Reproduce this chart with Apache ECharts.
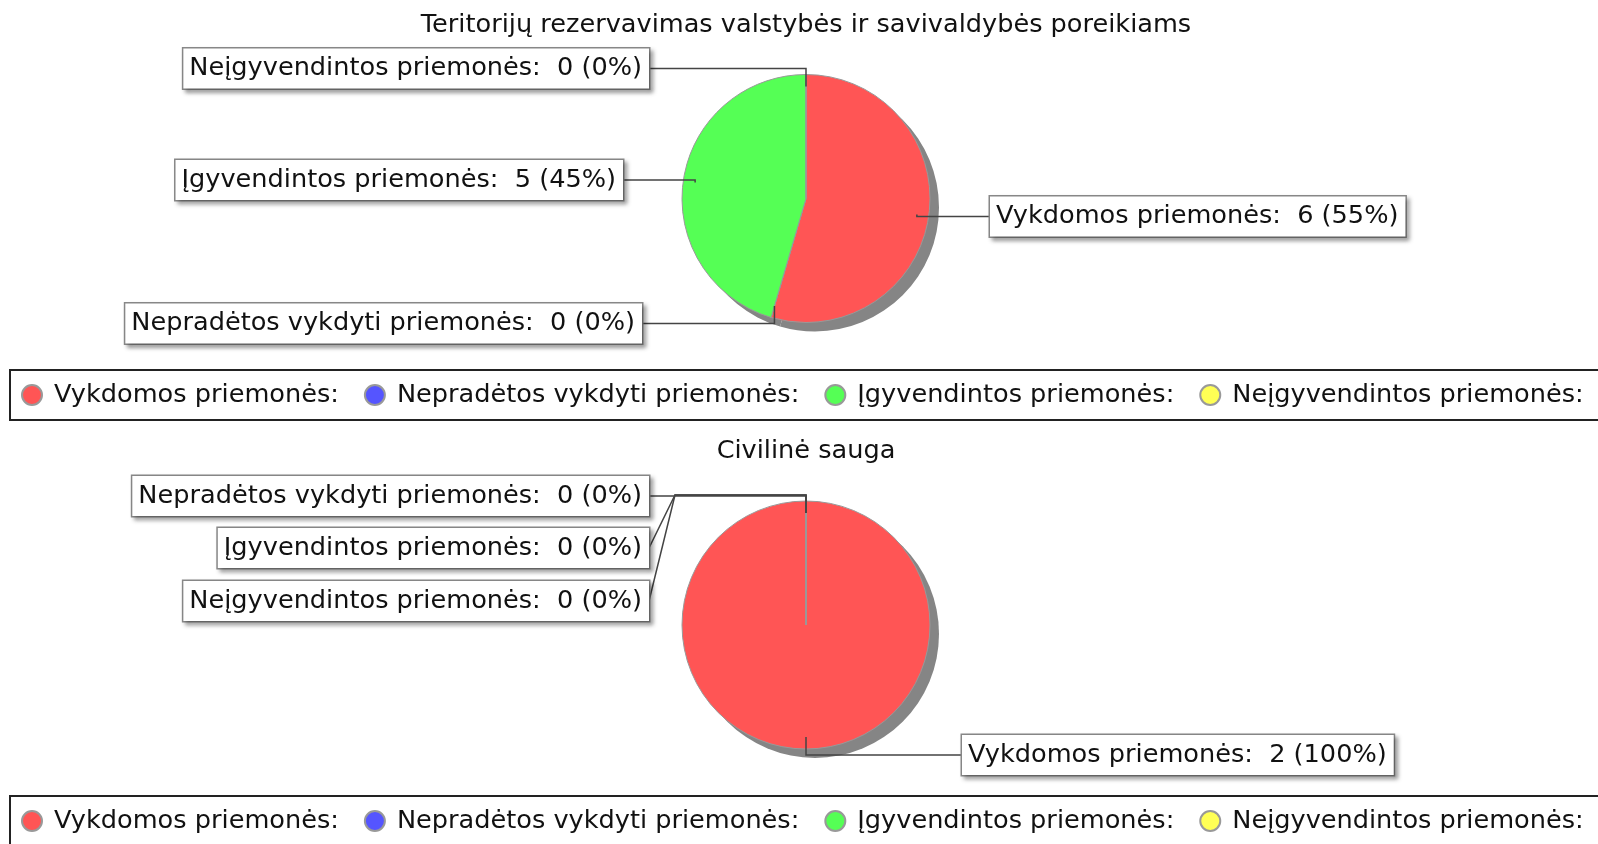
<!DOCTYPE html>
<html>
<head>
<meta charset="utf-8">
<script src="https://cdn.jsdelivr.net/npm/echarts@6/dist/echarts.min.js"></script>
<style>
  html, body { margin: 0; padding: 0; background: #fff; }
  #chart { width: 1598px; height: 844px; }
</style>
</head>
<body>
<div id="chart"></div>
<script>
const categories = ['Vykdomos priemonės:', 'Nepradėtos vykdyti priemonės:', 'Įgyvendintos priemonės:', 'Neįgyvendintos priemonės:'];
const colors = ['#ff5555', '#5555ff', '#55ff55', '#ffff55'];
const titles = ['Teritorijų rezervavimas valstybės ir savivaldybės poreikiams', 'Civilinė sauga'];
const teritorijuValues = [6, 0, 5, 0];
const civilineValues = [2, 0, 0, 0];

const FONT = 'DejaVu Sans';
const FS = 25.6;
const R = 124;

// panel layout: pie centre, title / legend rows, label box anchors
const panels = [
  { values: teritorijuValues, cx: 806, cy: 198.5, titleY: 25, legendY: 370,
    labels: [[990, 216.5], [642, 323.5], [623, 180], [649, 68.5]] },
  { values: civilineValues, cx: 806, cy: 625, titleY: 451, legendY: 796,
    labels: [[962, 755], [649, 496], [649, 548], [649, 601]] }
];

// mid angle of each slice (clockwise from 12 o'clock)
function midAngles(values) {
  const total = values.reduce((a, b) => a + b, 0);
  let acc = 0;
  return values.map(v => {
    const a = (acc + v / 2) / total * Math.PI * 2;
    acc += v;
    return a;
  });
}

function makeLabelLayout(p) {
  const mids = midAngles(p.values);
  return function (params) {
    const i = params.dataIndex;
    const pos = p.labels[i];
    const right = pos[0] > p.cx;
    const sx = Math.sin(mids[i]), sy = -Math.cos(mids[i]);
    const inner = [p.cx + sx * (R - 12), p.cy + sy * (R - 12)];
    let elbowY = p.cy + sy * (R + 6);
    if (Math.abs(elbowY - pos[1]) < 10) elbowY = pos[1];
    const dir = right ? -1 : 1;
    return {
      x: pos[0],
      y: pos[1],
      align: right ? 'left' : 'right',
      verticalAlign: 'middle',
      labelLinePoints: [
        [pos[0], pos[1]],
        [pos[0] + dir * 26, elbowY],
        [inner[0], elbowY],
        inner
      ]
    };
  };
}

const series = [];
panels.forEach((p, k) => {
  // drop shadow behind the pie
  series.push({
    type: 'pie',
    z: 1,
    center: [p.cx + 9, p.cy + 9],
    radius: R,
    silent: true,
    label: { show: false },
    labelLine: { show: false },
    itemStyle: { color: '#858585', borderWidth: 0 },
    emphasis: { disabled: true },
    data: p.values.map((v, i) => ({ name: 'shadow-' + k + '-' + i, value: v }))
  });
  // the pie itself
  series.push({
    type: 'pie',
    z: 2,
    center: [p.cx, p.cy],
    radius: R,
    emphasis: { disabled: true },
    itemStyle: { borderColor: '#999', borderWidth: 1 },
    label: { show: false },
    labelLine: { show: false },
    data: categories.map((c, i) => ({ name: c, value: p.values[i], itemStyle: { color: colors[i] } }))
  });
  // transparent copy on top carrying the labels and link lines
  series.push({
    type: 'pie',
    z: 3,
    center: [p.cx, p.cy],
    radius: R,
    silent: true,
    percentPrecision: 0,
    avoidLabelOverlap: false,
    emphasis: { disabled: true },
    itemStyle: { color: 'rgba(0,0,0,0)', borderWidth: 0 },
    label: {
      show: true,
      formatter: '{b}  {c} ({d}%)',
      fontFamily: FONT,
      fontSize: FS,
      color: '#111',
      lineHeight: 28,
      backgroundColor: '#fff',
      borderColor: '#888',
      borderWidth: 1.5,
      padding: [6, 7, 6, 6],
      shadowColor: 'rgba(0,0,0,0.3)',
      shadowBlur: 4,
      shadowOffsetX: 3,
      shadowOffsetY: 3
    },
    labelLine: { show: true, lineStyle: { color: '#444', width: 1.5 } },
    labelLayout: makeLabelLayout(p),
    data: categories.map((c, i) => ({ name: c, value: p.values[i] }))
  });
});

const chart = echarts.init(document.getElementById('chart'));
chart.setOption({
  animation: false,
  color: colors,
  title: panels.map((p, k) => ({
    text: titles[k],
    left: 806,
    top: p.titleY,
    textAlign: 'center',
    textVerticalAlign: 'middle',
    padding: 0,
    textStyle: { fontFamily: FONT, fontSize: FS, fontWeight: 'normal', color: '#111' }
  })),
  legend: panels.map(p => ({
    data: categories,
    left: 10,
    top: p.legendY,
    width: 3000,
    icon: 'circle',
    itemWidth: 20,
    itemHeight: 20,
    itemGap: 25,
    padding: [12, 60, 12, 11],
    borderColor: '#222',
    borderWidth: 2,
    selectedMode: false,
    textStyle: { fontFamily: FONT, fontSize: FS, color: '#111', padding: [0, 0, 0, 7] }
  })),
  series: series
});
</script>
</body>
</html>
